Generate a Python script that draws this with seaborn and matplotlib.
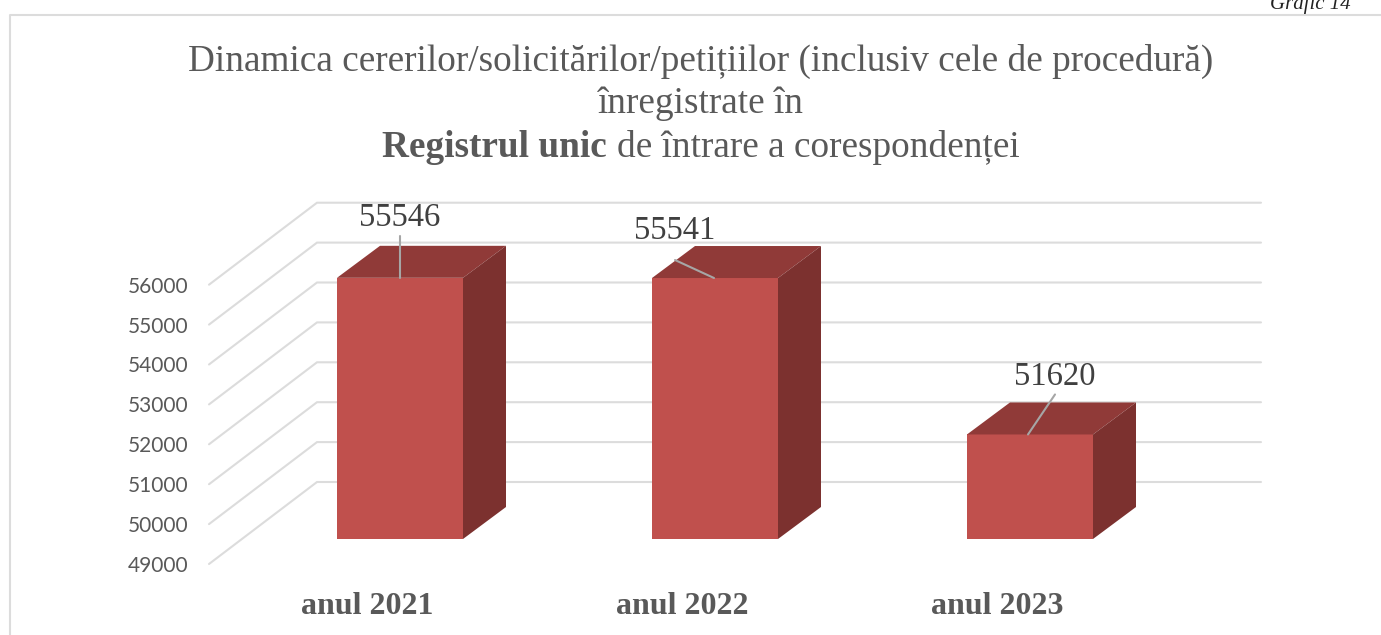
import numpy as np
import pandas as pd
import matplotlib
matplotlib.use("Agg")
import matplotlib.pyplot as plt
import seaborn as sns
from matplotlib.lines import Line2D
from matplotlib.patches import Polygon
from matplotlib.transforms import Affine2D

# ---- data ----
years = ["anul 2021", "anul 2022", "anul 2023"]
cereri = [55546, 55541, 51620]
y_ticks = [49000, 50000, 51000, 52000, 53000, 54000, 55000, 56000]
title_line_1 = "Dinamica cererilor/solicitărilor/petițiilor (inclusiv cele de procedură)"
title_line_2 = "înregistrate în"
title_bold = "Registrul unic"
title_rest = "de întrare a corespondenței"
caption = "Grafic 14"

# ---- layout (pixels) ----
W, H = 1381, 635
AX_L, AX_R, AX_B, AX_T = 209, 1261, 539, 259.7
CAT_PX, CAT0_PX = 315, 400
BAR_DEPTH = (43, 32)
WALL_DEPTH = (108, 57)
FRONT_DROP = 25
LABEL_CENTER_OFF = [(0, 60), (-40, 47), (25, 58)]
LEADER_FOOT_OFF = [0, -1, -2]
LEADER_TOP_OFF = [(0, 42), (-40, 18), (25, 40)]

FRONT, TOP, SIDE = "#C0504D", "#903A38", "#7C312F"
GRID, TXT, LBL, LEAD = "#DCDCDC", "#595959", "#404040", "#A6A6A6"

sns.set_theme(style="white")
plt.rcParams["font.family"] = ["Liberation Serif", "DejaVu Serif"]

fig = plt.figure(figsize=(W / 100, H / 100), dpi=100, facecolor="white")
ax = fig.add_axes([AX_L / W, 1 - AX_B / H, (AX_R - AX_L) / W, (AX_B - AX_T) / H])
ax.patch.set_alpha(0)

df = pd.DataFrame({"an": years, "cereri": cereri})
sns.barplot(data=df, x="an", y="cereri", color=FRONT, saturation=1, width=0.4,
            ax=ax, zorder=3, linewidth=0)
xlim = ((AX_L - CAT0_PX) / CAT_PX, (AX_R - CAT0_PX) / CAT_PX)
ax.set_xlim(*xlim)
ax.set_ylim(y_ticks[0], y_ticks[-1])
ax.set_xlabel("")
ax.set_ylabel("")
sns.despine(ax=ax, left=True, bottom=True)
ax.grid(False)

# y tick labels sit on the front edge of the side-wall diagonals
ax.set_yticks(y_ticks)
ax.tick_params(axis="y", length=0, pad=15, labelsize=15, labelcolor=TXT)
for lab in ax.get_yticklabels():
    lab.set_fontfamily("Lato")
    lab.set_transform(lab.get_transform() + Affine2D().translate(0, -FRONT_DROP))

# category labels
ax.tick_params(axis="x", length=0, pad=38, labelsize=23, labelcolor=TXT)
for lab in ax.get_xticklabels():
    lab.set_fontweight("bold")
    lab.set_transform(lab.get_transform() + Affine2D().translate(-33, 0))

fig.canvas.draw()
to_px = ax.transData.transform

# back wall grid lines and side-wall diagonals
for v in y_ticks:
    x0, yv = to_px((xlim[0], v))
    x1, _ = to_px((xlim[1], v))
    fx, fy = x0, yv - FRONT_DROP
    bx, by = x0 + WALL_DEPTH[0], yv + WALL_DEPTH[1]
    fig.add_artist(Line2D([fx, bx, x1], [fy, by, by], color=GRID, lw=1.5,
                          transform=None, zorder=1, solid_joinstyle="miter"))

# 3-D faces of each bar, derived from the drawn bars
ax.set_zorder(2)
dx, dy = BAR_DEPTH
for i, (bar, val) in enumerate(zip(ax.patches, cereri)):
    xl, xr = bar.get_x(), bar.get_x() + bar.get_width()
    (pl, pb), (pr, pt) = to_px((xl, y_ticks[0])), to_px((xr, val))
    top = Polygon([(pl, pt), (pr, pt), (pr + dx, pt + dy), (pl + dx, pt + dy)],
                  closed=True, fc=TOP, ec="none", transform=None, zorder=4, clip_on=False)
    side = Polygon([(pr, pb), (pr + dx, pb + dy), (pr + dx, pt + dy), (pr, pt)],
                   closed=True, fc=SIDE, ec="none", transform=None, zorder=4, clip_on=False)
    ax.add_artist(top)
    ax.add_artist(side)
    top.set_clip_on(False)
    side.set_clip_on(False)
    cx = (pl + pr) / 2
    foot = cx + LEADER_FOOT_OFF[i]
    tx, ty = LEADER_TOP_OFF[i]
    if i == 1:
        foot = pr - 64
    leader = Line2D([foot, cx + tx], [pt, pt + ty], color=LEAD, lw=1.5,
                    transform=None, zorder=5, clip_on=False)
    ax.add_artist(leader)
    leader.set_clip_on(False)
    ox, oy = LABEL_CENTER_OFF[i]
    ax.text(cx + ox, pt + oy, str(val), transform=None, ha="center", va="center",
            fontsize=23.5, color=LBL, zorder=6, clip_on=False)

# frame of the chart
fig.add_artist(Line2D([9.5, 9.5, W], [0, H - 15, H - 15], color=GRID, lw=1.5, transform=None))

# title
def px(x, y):
    return x / W, 1 - y / H

TITLE_FS = 26.8
fig.text(*px(700.5, 61), title_line_1, ha="center", va="center", fontsize=TITLE_FS, color=TXT)
fig.text(*px(700.5, 104), title_line_2, ha="center", va="center", fontsize=TITLE_FS, color=TXT)
fig.text(*px(607, 157), title_bold, ha="right", va="baseline", fontsize=TITLE_FS,
         fontweight="bold", color=TXT)
fig.text(*px(617, 157), title_rest, ha="left", va="baseline", fontsize=TITLE_FS, color=TXT)
fig.text(*px(1351, 9), caption, ha="right", va="baseline", fontsize=15,
         fontstyle="italic", color="#222222")

fig.savefig("out.png", dpi=100, facecolor="white")
